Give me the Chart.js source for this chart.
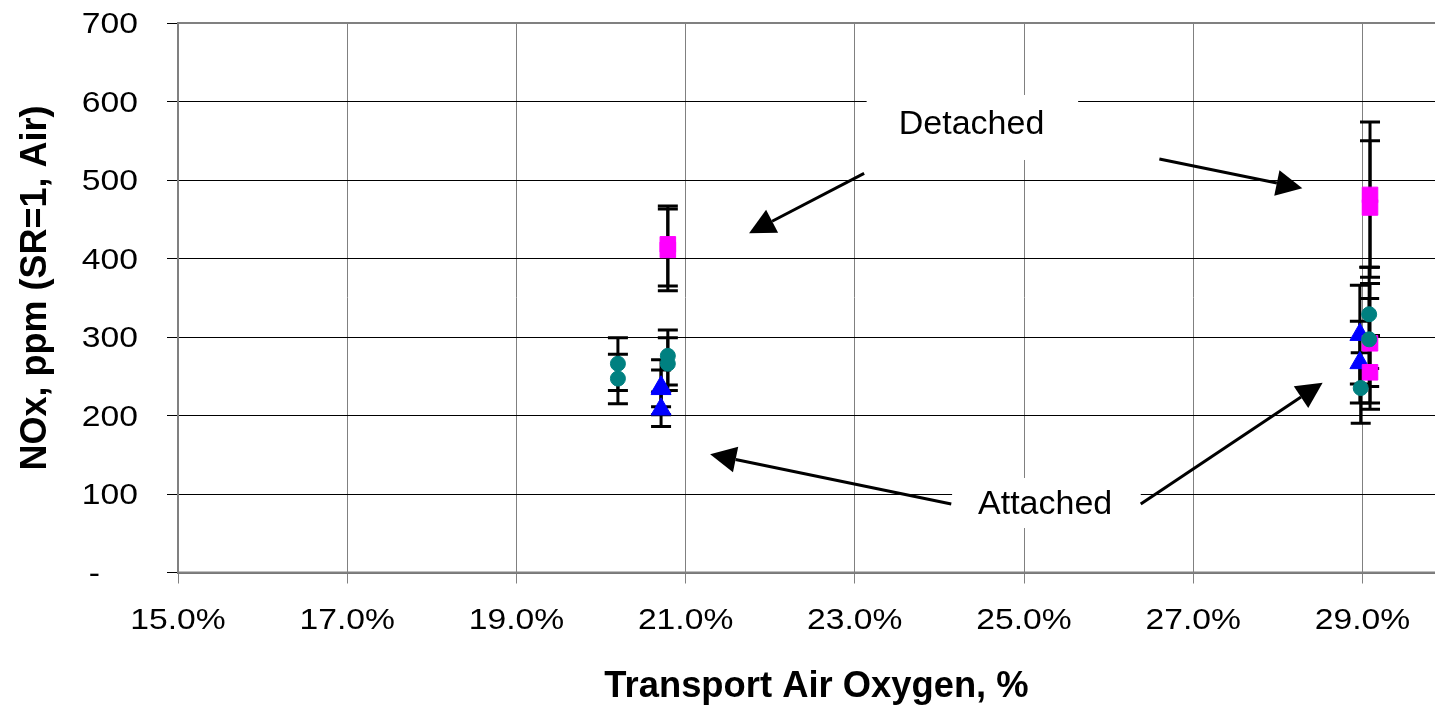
<!DOCTYPE html>
<html>
<head>
<meta charset="utf-8">
<title>NOx vs Transport Air Oxygen</title>
<script src="https://cdn.jsdelivr.net/npm/chart.js@4.4.0/dist/chart.umd.min.js"></script>
<style>
  html, body { margin: 0; padding: 0; background: #fff; overflow: hidden; }
  canvas { display: block; }
</style>
</head>
<body>
<canvas id="noxChart" width="1460" height="705"></canvas>
<script>
// axis ticks
const xTickValues = [15, 17, 19, 21, 23, 25, 27, 29];
const xTickLabels = ["15.0%", "17.0%", "19.0%", "21.0%", "23.0%", "25.0%", "27.0%", "29.0%"];
const yTickValues = [0, 100, 200, 300, 400, 500, 600, 700];
const yTickLabels = ["-", "100", "200", "300", "400", "500", "600", "700"];

// teal circles
const circleX  = [20.20, 20.20, 20.79, 20.79, 29.08, 29.08, 28.98];
const circleY  = [266, 247, 276, 266, 329, 297, 235];
const circleLo = [232, 215, 239, 232, 260, 237, 190];
const circleHi = [299, 278, 309, 299, 389, 349, 280];

// magenta squares
const squareX  = [20.79, 20.79, 29.09, 29.09, 29.09, 29.09];
const squareY  = [418, 411, 481, 465, 292, 255];
const squareLo = [365, 359, 389, 376, 216, 208];
const squareHi = [467, 463, 574, 550, 368, 302];

// blue triangles
const triX  = [20.71, 20.71, 20.71, 28.97, 28.97];
const triY  = [236, 234, 208, 303, 267];
const triLo = [201, 211, 186, 240, 216];
const triHi = [271, 258, 230, 366, 320];

// callouts (data units)
const noteText = ["Detached", "Attached"];
const noteX = [24.38, 25.25];
const noteY = [558.6, 74.5];
const noteBoxX0 = [23.14, 24.15];
const noteBoxX1 = [25.64, 26.38];
const noteBoxY0 = [525.5, 56.7];
const noteBoxY1 = [608.3, 120.4];
const arrowFromX = [23.11, 26.60, 24.14, 26.38];
const arrowFromY = [508.5, 526.8, 87.3, 87.3];
const arrowToX   = [21.75, 28.29, 21.29, 28.53];
const arrowToY   = [432.1, 489.4, 150.6, 241.8];

function makePoints(xs, ys, lo, hi){
    return xs.map((x, i) => ({x: x, y: ys[i], lo: lo[i], hi: hi[i]}));
}

function drawArrow(ctx, x0, y0, x1, y1){
    const ang = Math.atan2(y1 - y0, x1 - x0);
    const headLen = 26, headHalf = 13;
    const bx = x1 - headLen * Math.cos(ang);
    const by = y1 - headLen * Math.sin(ang);
    ctx.beginPath();
    ctx.moveTo(x0, y0);
    ctx.lineTo(bx, by);
    ctx.stroke();
    ctx.beginPath();
    ctx.moveTo(x1, y1);
    ctx.lineTo(bx + headHalf * Math.sin(ang), by - headHalf * Math.cos(ang));
    ctx.lineTo(bx - headHalf * Math.sin(ang), by + headHalf * Math.cos(ang));
    ctx.closePath();
    ctx.fill();
}

function stretchedText(ctx, text, x, y, align, stretch){
    ctx.save();
    ctx.translate(x, y);
    ctx.scale(stretch, 1);
    ctx.textAlign = align;
    ctx.fillText(text, 0, 0);
    ctx.restore();
}

// white boxes behind callout text, plot border, error bars
const underlay = {
    id: "underlay",
    beforeDatasetsDraw(chart){
        const {ctx, chartArea, scales: {x, y}} = chart;
        ctx.save();
        ctx.fillStyle = "#fff";
        noteText.forEach((t, i) => {
            const l = x.getPixelForValue(noteBoxX0[i]);
            const r = x.getPixelForValue(noteBoxX1[i]);
            const top = y.getPixelForValue(noteBoxY1[i]);
            const bot = y.getPixelForValue(noteBoxY0[i]);
            ctx.fillRect(l, top, r - l, bot - top);
        });

        ctx.strokeStyle = "#808080";
        ctx.lineWidth = 2;
        ctx.strokeRect(chartArea.left, chartArea.top, chartArea.right - chartArea.left, chartArea.bottom - chartArea.top);

        ctx.strokeStyle = "#000";
        ctx.lineWidth = 3;
        chart.data.datasets.forEach(ds => {
            ds.data.forEach(p => {
                const px = x.getPixelForValue(p.x);
                const top = y.getPixelForValue(p.hi);
                const bot = y.getPixelForValue(p.lo);
                ctx.beginPath();
                ctx.moveTo(px, top); ctx.lineTo(px, bot);
                ctx.moveTo(px - 10, top); ctx.lineTo(px + 10, top);
                ctx.moveTo(px - 10, bot); ctx.lineTo(px + 10, bot);
                ctx.stroke();
            });
        });
        ctx.restore();
    }
};

// arrows, callout text, tick labels and axis titles
const overlay = {
    id: "overlay",
    afterDraw(chart){
        const {ctx, scales: {x, y}} = chart;
        ctx.save();
        ctx.strokeStyle = "#000";
        ctx.fillStyle = "#000";
        ctx.lineWidth = 3;
        arrowFromX.forEach((ax, i) => {
            drawArrow(ctx, x.getPixelForValue(ax), y.getPixelForValue(arrowFromY[i]),
                x.getPixelForValue(arrowToX[i]), y.getPixelForValue(arrowToY[i]));
        });

        ctx.textBaseline = "alphabetic";
        ctx.font = '33px "Liberation Sans", Arial, sans-serif';
        noteText.forEach((t, i) => {
            stretchedText(ctx, t, x.getPixelForValue(noteX[i]), y.getPixelForValue(noteY[i]), "center", 1.03);
        });

        ctx.font = '29px "Liberation Sans", Arial, sans-serif';
        yTickValues.forEach((v, i) => {
            const py = y.getPixelForValue(v) + 10;
            const lbl = yTickLabels[i];
            const px = lbl === "-" ? 100 : y.right - 40;
            stretchedText(ctx, lbl, px, py, "right", 1.16);
        });
        xTickValues.forEach((v, i) => {
            stretchedText(ctx, xTickLabels[i], x.getPixelForValue(v), x.top + 56, "center", 1.16);
        });

        ctx.font = 'bold 36px "Liberation Sans", Arial, sans-serif';
        stretchedText(ctx, "Transport Air Oxygen, %", (x.left + x.right) / 2 + 4, 697, "center", 1.01);

        ctx.font = 'bold 36px "Liberation Sans", Arial, sans-serif';
        ctx.translate(46, 288);
        ctx.rotate(-Math.PI / 2);
        ctx.textAlign = "center";
        ctx.fillText("NOx, ppm (SR=1, Air)", 0, 0);
        ctx.restore();
    }
};

new Chart(document.getElementById("noxChart"), {
    type: "scatter",
    data: {
        datasets: [
            {
                label: "Circles",
                data: makePoints(circleX, circleY, circleLo, circleHi),
                pointStyle: "circle",
                pointRadius: 7.5,
                backgroundColor: "#008080",
                borderColor: "#008080",
                borderWidth: 1
            },
            {
                label: "Squares",
                data: makePoints(squareX, squareY, squareLo, squareHi),
                pointStyle: "rect",
                pointRadius: 11,
                backgroundColor: "#FF00FF",
                borderColor: "#FF00FF",
                borderWidth: 1
            },
            {
                label: "Triangles",
                data: makePoints(triX, triY, triLo, triHi),
                pointStyle: "triangle",
                pointRadius: 11.5,
                backgroundColor: "#0000FF",
                borderColor: "#0000FF",
                borderWidth: 1
            }
        ]
    },
    options: {
        responsive: false,
        animation: false,
        layout: { padding: { left: 0, top: 23, right: 13, bottom: 0 } },
        plugins: {
            legend: { display: false },
            tooltip: { enabled: false }
        },
        scales: {
            x: {
                type: "linear",
                min: 15,
                max: 30,
                afterBuildTicks: s => { s.ticks = xTickValues.map(v => ({value: v})); },
                afterFit: s => { s.height = 132.5; },
                ticks: { display: false },
                grid: { color: "#808080", lineWidth: 1, drawTicks: true, tickLength: 11 },
                border: { color: "#707070", width: 2 }
            },
            y: {
                type: "linear",
                min: 0,
                max: 700,
                afterBuildTicks: s => { s.ticks = yTickValues.map(v => ({value: v})); },
                afterFit: s => { s.width = 178; },
                ticks: { display: false },
                grid: { color: "#000", lineWidth: 1, drawTicks: true, tickLength: 11 },
                border: { color: "#808080", width: 2 }
            }
        }
    },
    plugins: [underlay, overlay]
});
</script>
</body>
</html>
